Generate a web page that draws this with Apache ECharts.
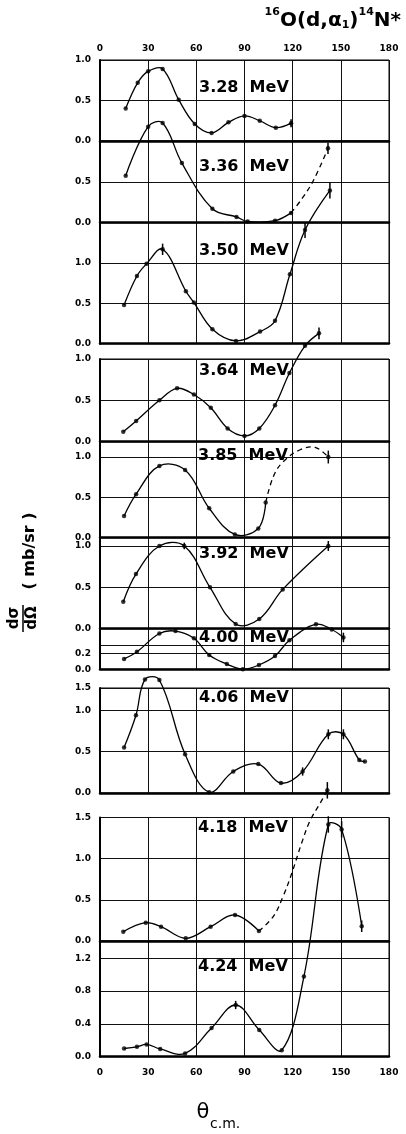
<!DOCTYPE html>
<html><head><meta charset="utf-8">
<script src="https://cdn.jsdelivr.net/npm/echarts@6/dist/echarts.min.js"></script>
<style>html,body{margin:0;padding:0;background:#fff}#c{width:406px;height:1134px}</style>
</head><body><div id="c"></div>
<script>
// ---------------- data ----------------
const energies = ['3.28  MeV','3.36  MeV','3.50  MeV','3.64  MeV','3.85  MeV','3.92  MeV','4.00  MeV','4.06  MeV','4.18  MeV','4.24  MeV'];
const xTicks = [0, 30, 60, 90, 120, 150, 180];

const ang328 = [16, 23.5, 30, 39, 49, 59, 69.5, 80, 90, 99.5, 109.5, 119];
const val328 = [0.40, 0.72, 0.86, 0.89, 0.51, 0.21, 0.10, 0.23, 0.31, 0.25, 0.165, 0.22];

const ang336 = [16, 30, 39, 51, 70, 85, 92, 109, 119];
const val336 = [0.575, 1.175, 1.22, 0.73, 0.17, 0.07, 0.015, 0.025, 0.12];
const dashAng336 = [119, 126, 133, 142];
const dashVal336 = [0.12, 0.30, 0.52, 0.91];

const ang350 = [15, 23, 29, 39, 53.5, 58.5, 70, 84.7, 99.7, 109, 118.3, 127.7, 143.2];
const val350 = [0.48, 0.84, 0.99, 1.17, 0.65, 0.51, 0.18, 0.035, 0.15, 0.285, 0.86, 1.41, 1.90];

const ang364 = [14.5, 22.5, 37, 48, 58.5, 69, 79.5, 90, 99.2, 109, 118, 127.7, 136.4];
const val364 = [0.12, 0.25, 0.50, 0.645, 0.57, 0.41, 0.16, 0.07, 0.16, 0.44, 0.83, 1.16, 1.31];

const ang385 = [15, 22.5, 37, 53, 68, 84, 98.6, 103.2];
const val385 = [0.27, 0.54, 0.89, 0.84, 0.365, 0.04, 0.115, 0.435];
const dashAng385 = [103.2, 108, 114, 124.6, 134, 142.2];
const dashVal385 = [0.435, 0.76, 0.94, 1.09, 1.12, 1.0];

const ang392 = [14.5, 22.4, 37, 52.5, 68.5, 84.5, 99.2, 113.8, 142.2];
const val392 = [0.325, 0.66, 1.0, 1.0, 0.5, 0.056, 0.117, 0.475, 1.0];

const ang400 = [15, 23, 37, 47, 58.5, 68, 79, 89, 99, 109, 118, 134.5, 144.3, 151.6];
const val400 = [0.13, 0.22, 0.45, 0.48, 0.39, 0.18, 0.066, 0.0, 0.054, 0.166, 0.366, 0.566, 0.50, 0.40];

const ang406 = [15, 22.4, 28, 37, 53, 68, 83, 98.6, 112.7, 126.2, 142.2, 151.6, 161.5, 165];
const val406 = [0.55, 0.94, 1.69, 1.68, 0.47, 0.01, 0.26, 0.35, 0.12, 0.26, 0.71, 0.71, 0.40, 0.38];

const ang418 = [14.5, 28.5, 38, 53.4, 68.9, 84.1, 99];
const val418 = [0.113, 0.222, 0.174, 0.033, 0.174, 0.316, 0.12];
const dashAng418 = [99, 108, 114, 119.4, 125.6, 130.8, 137, 141.6];
const dashVal418 = [0.12, 0.30, 0.54, 0.82, 1.19, 1.46, 1.67, 1.83];

const ang424 = [15, 23, 29, 37.5, 53, 69.5, 84.5, 99.2, 113.2, 127, 142.2, 150.5, 163];
const val424 = [0.10, 0.12, 0.15, 0.094, 0.04, 0.35, 0.63, 0.325, 0.08, 0.976, 2.83, 2.77, 1.59];

// error bars: [angle, value, half-length]
const err328 = [[119, 0.22, 0.05]];
const err336 = [[142, 0.91, 0.07]];
const err350 = [[39, 1.17, 0.07], [127.7, 1.41, 0.1], [143.2, 1.90, 0.1]];
const err364 = [[136.4, 1.31, 0.07]];
const err385 = [[142.2, 1.0, 0.08]];
const err392 = [[52.5, 1.0, 0.04], [142.2, 1.0, 0.06]];
const err400 = [[151.6, 0.40, 0.06]];
const err406 = [[126.2, 0.26, 0.05], [142.2, 0.71, 0.06], [151.6, 0.71, 0.06]];
const err418 = [[141.6, 1.83, 0.1]];
const err424 = [[84.5, 0.63, 0.05], [142.2, 2.83, 0.1], [150.5, 2.77, 0.1], [163, 1.59, 0.07]];

// y tick labels and grid lines per panel
const ticks328 = [0, 0.5, 1.0];
const ticks336 = [0, 0.5];
const ticks350 = [0, 0.5, 1.0];
const ticks364 = [0, 0.5, 1.0];
const ticks385 = [0, 0.5, 1.0];
const ticks392 = [0, 0.5, 1.0];
const ticks400 = [0, 0.2];
const lines400 = [0, 0.2, 0.3];
const ticks406 = [0, 0.5, 1.0, 1.5];
const ticks418 = [0, 0.5, 1.0, 1.5];
const ticks424 = [0, 0.4, 0.8, 1.2];

// ---------------- layout ----------------
const K = 0.54; // the 4.06 MeV scale is compressed above 1.0
const squeeze = v => v <= 1 ? v : 1 + (v - 1) * K;
const unsqueeze = t => t <= 1 ? t : 1 + (t - 1) / K;
const ident = v => v;

const panels = [
  {top: 60,    bottom: 141,    max: 1.0,  ang: ang328, val: val328, ticks: ticks328, err: err328},
  {top: 141,   bottom: 222.7,  max: 1.0,  ang: ang336, val: val336, ticks: ticks336, err: err336, dAng: dashAng336, dVal: dashVal336},
  {top: 222.7, bottom: 343.7,  max: 1.5,  ang: ang350, val: val350, ticks: ticks350, err: err350},
  {top: 359,   bottom: 441.7,  max: 1.0,  ang: ang364, val: val364, ticks: ticks364, err: err364},
  {top: 441.7, bottom: 537.7,  max: 1.19, ang: ang385, val: val385, ticks: ticks385, err: err385, dAng: dashAng385, dVal: dashVal385},
  {top: 537.7, bottom: 628.7,  max: 1.1,  ang: ang392, val: val392, ticks: ticks392, err: err392},
  {top: 628.7, bottom: 669.3,  max: 0.51, ang: ang400, val: val400, ticks: ticks400, lines: lines400, err: err400},
  {top: 688,   bottom: 793,    max: squeeze(1.5), ang: ang406, val: val406, ticks: ticks406, err: err406, f: squeeze, inv: unsqueeze},
  {top: 817.5, bottom: 941,    max: 1.5,  ang: ang418, val: val418, ticks: ticks418, err: err418, dAng: dashAng418, dVal: dashVal418},
  {top: 941,   bottom: 1056.7, max: 1.41, ang: ang424, val: val424, ticks: ticks424, err: err424}
];
const labelPos = [[199,88],[199,167],[199,251],[199,371],[198,456],[199,554],[199,638],[199,698],[198,828],[198,967]];

const FONT = 'DejaVu Sans';
const tickFont = {color: '#000', fontFamily: FONT, fontWeight: 'bold', fontSize: 9};
const fmt1 = v => (Math.round(v * 10) / 10).toFixed(1);

// smooth curve through the data points, drawn in axis coordinates
function curveSeries(i, pts, dashed) {
  return {type: 'custom', xAxisIndex: i, yAxisIndex: i, clip: false, z: 5, silent: true,
    data: pts,
    renderItem: (params, api) => {
      if (params.dataIndex !== 0) return null;
      const coords = pts.map(p => api.coord(p));
      return {type: 'polyline', shape: {points: coords, smooth: 0.38},
        style: {stroke: '#000', lineWidth: 1.3, fill: null, lineDash: dashed ? [5, 4] : null}};
    }};
}

const grids = [], xAxes = [], yAxes = [], series = [];
panels.forEach((p, i) => {
  const f = p.f || ident, inv = p.inv || ident;
  grids.push({left: 100, width: 289, top: p.top, height: p.bottom - p.top, show: true,
    borderColor: '#000', borderWidth: 1, containLabel: false, outerBoundsMode: 'none'});
  xAxes.push({gridIndex: i, type: 'value', min: 0, max: 180, interval: 30, position: 'bottom',
    axisLine: {show: true, onZero: false, lineStyle: {color: '#000', width: 2.5}},
    axisTick: {show: false},
    axisLabel: Object.assign({show: i === panels.length - 1, margin: 11, customValues: xTicks, formatter: v => String(v)}, tickFont),
    splitLine: {show: true, lineStyle: {color: '#111', width: 1}}});
  yAxes.push({gridIndex: i, type: 'value', min: 0, max: p.max, position: 'left',
    axisLine: {show: true, onZero: false, lineStyle: {color: '#000', width: 2}},
    axisTick: {show: false, customValues: (p.lines || p.ticks).map(f)},
    axisLabel: Object.assign({show: true, margin: 9, customValues: p.ticks.map(f),
      formatter: v => fmt1(inv(v))}, tickFont),
    splitLine: {show: true, lineStyle: {color: '#111', width: 1}}});

  const solid = p.ang.map((a, k) => [a, f(p.val[k])]);
  series.push(curveSeries(i, solid, false));
  const dots = solid.slice();
  if (p.dAng) {
    const dash = p.dAng.map((a, k) => [a, f(p.dVal[k])]);
    series.push(curveSeries(i, dash, true));
    dots.push(dash[dash.length - 1]);
  }
  series.push({type: 'scatter', xAxisIndex: i, yAxisIndex: i, clip: false, z: 6,
    symbol: 'circle', symbolSize: 4.5, itemStyle: {color: '#000'}, data: dots});
  series.push({type: 'custom', xAxisIndex: i, yAxisIndex: i, clip: false, z: 6,
    data: p.err.map(e => [e[0], f(e[1] - e[2]), f(e[1] + e[2])]),
    renderItem: (params, api) => {
      const a = api.coord([api.value(0), api.value(1)]);
      const b = api.coord([api.value(0), api.value(2)]);
      return {type: 'line', shape: {x1: a[0], y1: a[1], x2: b[0], y2: b[1]},
        style: {stroke: '#000', lineWidth: 1.5}};
    }});
});

// top x-axis labels on first panel
xAxes.push({gridIndex: 0, type: 'value', min: 0, max: 180, interval: 30, position: 'top',
  axisLine: {show: false}, axisTick: {show: false}, splitLine: {show: false},
  axisLabel: Object.assign({show: true, margin: 7, customValues: xTicks, formatter: v => String(v)}, tickFont)});

const graphics = energies.map((t, i) => ({type: 'text', x: labelPos[i][0], y: labelPos[i][1], z: 20,
  style: {text: t, fill: '#000', font: 'bold 16px "DejaVu Sans"', align: 'left', verticalAlign: 'middle'}}));

// reaction title
graphics.push({type: 'text', x: 401, y: 31, z: 20, style: {
  text: '{s|16}{m|O(d,α}{b|1}{m|)}{s|14}{m|N*}', align: 'right', verticalAlign: 'bottom', fill: '#000',
  rich: {
    m: {fontFamily: FONT, fontWeight: 'bold', fontSize: 20, lineHeight: 24, verticalAlign: 'bottom'},
    s: {fontFamily: FONT, fontWeight: 'bold', fontSize: 11, lineHeight: 24, verticalAlign: 'top'},
    b: {fontFamily: FONT, fontWeight: 'bold', fontSize: 11, lineHeight: 20, verticalAlign: 'bottom'}
  }}});

// y-axis title (rotated)
graphics.push({type: 'text', x: 30, y: 551, rotation: Math.PI / 2, z: 20,
  style: {text: '( mb/sr )', font: 'bold 16px "DejaVu Sans"', fill: '#000', align: 'center', verticalAlign: 'middle'}});
graphics.push({type: 'text', x: 14, y: 618, rotation: Math.PI / 2, z: 20,
  style: {text: 'dσ', font: 'bold 15px "DejaVu Sans"', fill: '#000', align: 'center', verticalAlign: 'middle'}});
graphics.push({type: 'text', x: 32, y: 618, rotation: Math.PI / 2, z: 20,
  style: {text: 'dΩ', font: 'bold 15px "DejaVu Sans"', fill: '#000', align: 'center', verticalAlign: 'middle'}});
graphics.push({type: 'line', z: 20, shape: {x1: 23, y1: 605, x2: 23, y2: 632}, style: {stroke: '#000', lineWidth: 1.5}});

// x-axis title
graphics.push({type: 'text', x: 203, y: 1113, z: 20,
  style: {text: 'θ', font: '21px "DejaVu Sans"', fill: '#000', align: 'center', verticalAlign: 'middle'}});
graphics.push({type: 'text', x: 210, y: 1124, z: 20,
  style: {text: 'c.m.', font: '14px "DejaVu Sans"', fill: '#000', align: 'left', verticalAlign: 'middle'}});

const chart = echarts.init(document.getElementById('c'), null, {renderer: 'canvas', width: 406, height: 1134});
chart.setOption({
  animation: false,
  backgroundColor: '#fff',
  grid: grids, xAxis: xAxes, yAxis: yAxes, series: series, graphic: graphics
});
</script></body></html>
